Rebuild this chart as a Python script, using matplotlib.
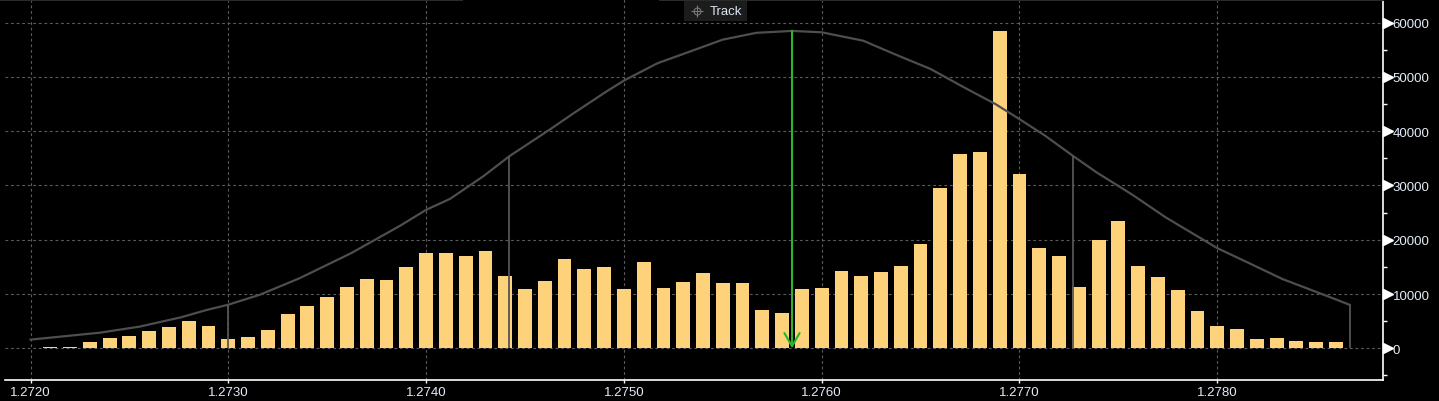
import numpy as np
import matplotlib
matplotlib.use('Agg')
import matplotlib.pyplot as plt
from matplotlib.patches import Rectangle
from matplotlib.lines import Line2D

# volume profile, one bin per pip
prices = np.round(1.2720 + 0.0001*np.arange(68), 4)
volumes = [100, 300, 300, 1200, 1950, 2300, 3250, 4000, 5100, 4150,
           1800, 2150, 3450, 6400, 7850, 9500, 11350, 12800, 12650, 15000,
           17600, 17600, 17050, 17900, 13300, 10900, 12400, 16450, 14600, 14950,
           10900, 15900, 11100, 12200, 13850, 12000, 12000, 7050, 6500, 10900,
           11100, 14250, 13300, 14050, 15150, 19200, 29500, 35800, 36150, 58450,
           32100, 18450, 17000, 11300, 19950, 23450, 15150, 13150, 10750, 6850,
           4100, 3550, 1700, 1900, 1350, 1150, 1150, 100]

# fitted curve
curve_x = [1.27200, 1.27235, 1.27255, 1.27276, 1.27289, 1.27300, 1.27316, 1.27336,
           1.27362, 1.27387, 1.27400, 1.27412, 1.27429, 1.27442, 1.27463, 1.27474,
           1.27491, 1.27500, 1.27517, 1.27533, 1.27550, 1.27567, 1.27585, 1.27600,
           1.27621, 1.27638, 1.27655, 1.27672, 1.27688, 1.27700, 1.27713, 1.27727,
           1.27739, 1.27757, 1.27774, 1.27800, 1.27816, 1.27833, 1.27855, 1.27867]
curve_y = [1600, 2870, 3980, 5700, 7050, 8030, 9870, 12900,
           17500, 22600, 25500, 27500, 31700, 35350, 40400, 43150,
           47250, 49300, 52500, 54600, 56850, 58100, 58450, 58200,
           56650, 54000, 51450, 48050, 44950, 42200, 39150, 35450,
           32400, 28300, 24100, 18450, 15700, 12750, 9700, 8000]

# sigma bands and the mode
band_x = [1.27300, 1.27442, 1.27727, 1.27867]
band_y = [8030, 35350, 35450, 8000]
mode_x = 1.27585
mode_y = 58450

x_ticks = [1.2720, 1.2730, 1.2740, 1.2750, 1.2760, 1.2770, 1.2780]
y_ticks = [0, 10000, 20000, 30000, 40000, 50000, 60000]

BG = 'black'
BAR = '#fed27a'
GRAY = '#555555'
GRID = '#5c5c5c'
LABEL = '#e4ecf8'
plt.rcParams['font.family'] = ['Liberation Sans', 'DejaVu Sans']

W, H = 1439, 402
fig = plt.figure(figsize=(W/100., H/100.), dpi=100, facecolor=BG)
ax = fig.add_axes([5./W, 21./H, 1378./W, 381./H], facecolor=BG)

ax.bar(prices, volumes, width=0.00007, color=BAR, zorder=3)
ax.plot(curve_x, curve_y, color='#4e4e4e', lw=1.6, zorder=4)
ax.vlines(band_x, 0, band_y, color=GRAY, lw=1.3, zorder=4)
ax.annotate('', xy=(mode_x, 0), xytext=(mode_x, mode_y),
            arrowprops=dict(arrowstyle='->,head_length=0.95,head_width=0.55',
                            color='#2bb52b', lw=1.5, shrinkA=0, shrinkB=0,
                            mutation_scale=10),
            zorder=5)

ax.set_xlim(1.271871, 1.278838)
ax.set_ylim(-5838, 64330)

ax.set_xticks(x_ticks)
ax.set_xticklabels(['%.4f' % v for v in x_ticks])
ax.set_yticks(y_ticks)
ax.set_yticks(np.arange(-5000, 65000, 10000), minor=True)
ax.yaxis.tick_right()
ax.tick_params(axis='y', which='major', length=0, pad=7, labelsize=9.5, labelcolor=LABEL)
ax.tick_params(axis='y', which='minor', length=3, width=1, color='white', direction='out')
ax.tick_params(axis='x', which='major', length=2.5, width=1, color='white', pad=2,
               labelsize=9.5, labelcolor=LABEL)

ax.grid(True, which='major', color=GRID, lw=0.8, linestyle=(0, (2.5, 2.5)), zorder=1)

for s in ['left', 'top']:
    ax.spines[s].set_visible(False)
ax.spines['bottom'].set_color('white')
ax.spines['right'].set_color('white')
ax.spines['bottom'].set_linewidth(1.2)
ax.spines['right'].set_linewidth(1.2)

# triangle tick markers on the price axis
ax.plot([1.0035]*len(y_ticks), y_ticks, linestyle='none', marker='>', ms=6.5,
        color='white', transform=ax.get_yaxis_transform(), clip_on=False, zorder=6)

# top border with a gap behind the legend
for x0, x1 in [(0, 462), (660, 1383)]:
    fig.add_artist(Line2D([x0/float(W), x1/float(W)], [1-1./H, 1-1./H],
                          color='#2a2a2a', lw=1.5))

# "Track" legend tab
fig.add_artist(Rectangle((684./W, 1-22./H), 63./W, 21./H, transform=fig.transFigure,
                         facecolor='#1c1c1c', edgecolor='none'))
fig.add_artist(Line2D([697./W], [1-12./H], marker='o', ms=5, mfc='none', mec='#777777',
                      mew=0.8, linestyle='none'))
fig.add_artist(Line2D([697./W], [1-12./H], marker='+', ms=9, mec='#777777',
                      mew=0.8, linestyle='none'))
fig.text(710./W, 1-12./H, 'Track', color='#dfe6f0', fontsize=9.5, va='center', ha='left')

fig.savefig('out.png', dpi=100, facecolor=BG)
